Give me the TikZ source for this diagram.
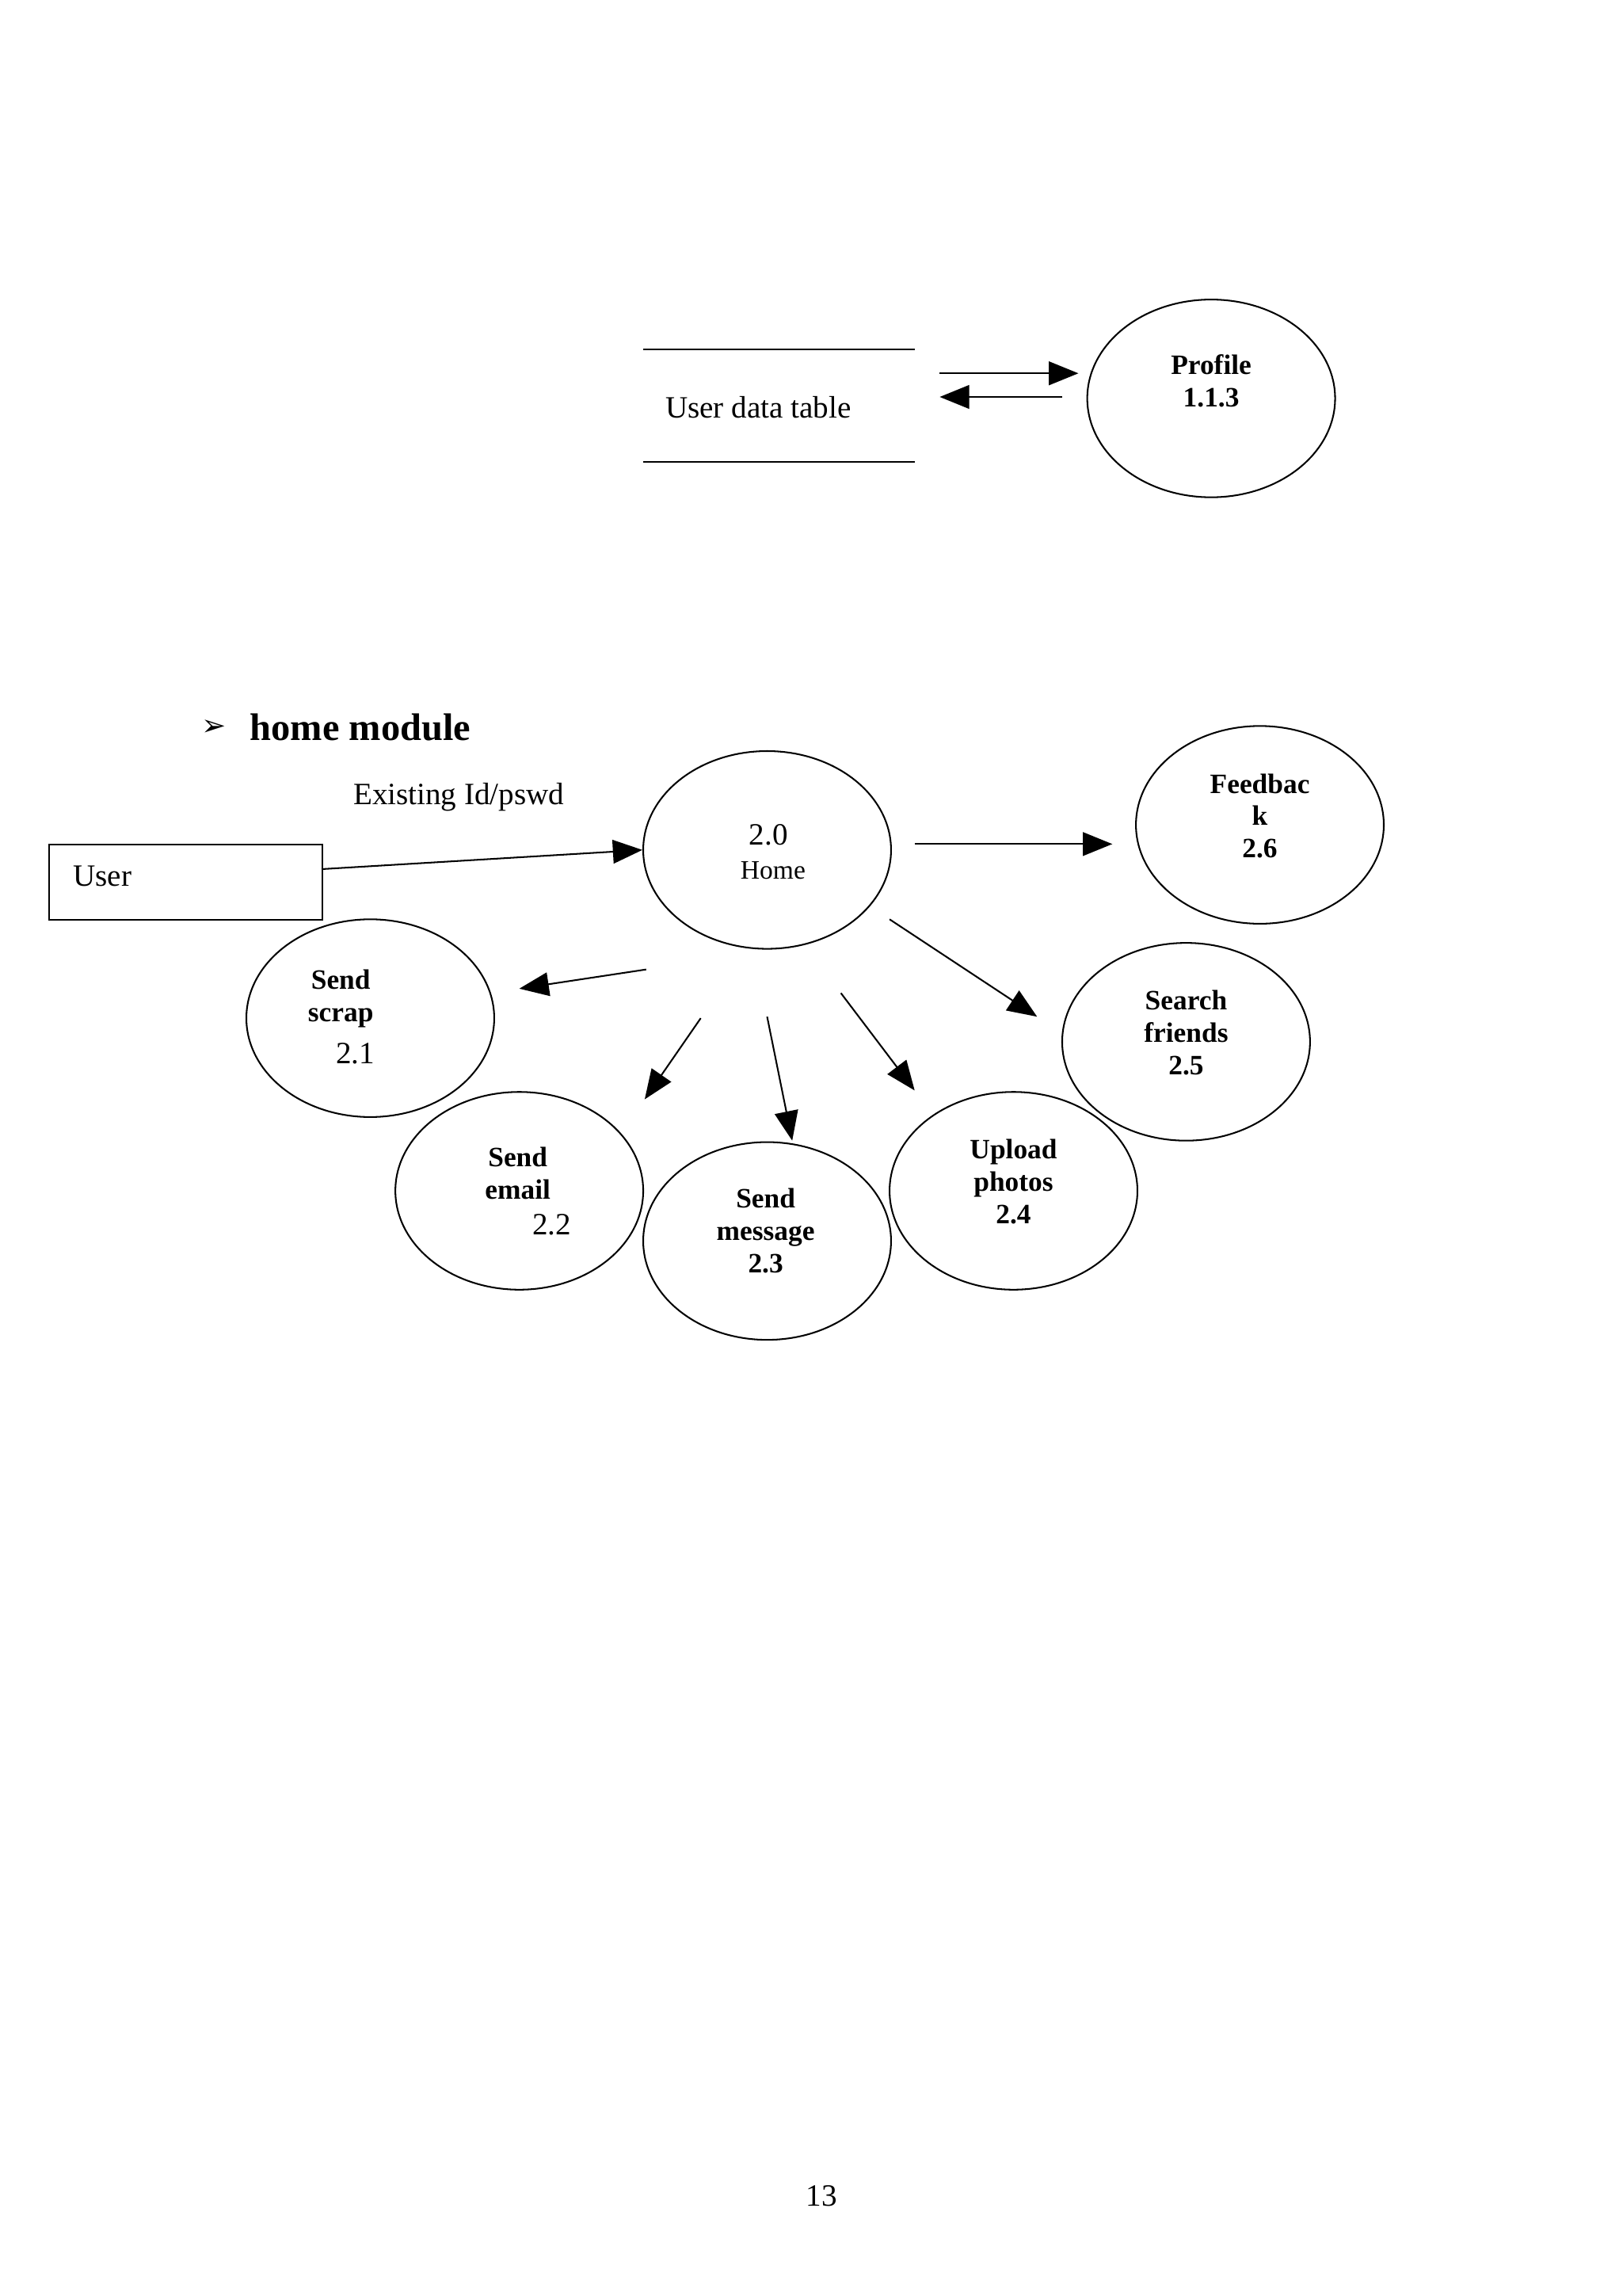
\documentclass[tikz,border=0pt]{standalone}
\usepackage{fontspec}
\setmainfont{Liberation Serif}
\newfontfamily\symf{DejaVu Sans}
\usetikzlibrary{shapes.geometric,arrows.meta}
\begin{document}
\begin{tikzpicture}[x=1pt,y=-1pt,
  proc/.style={draw,ellipse,minimum width=168pt,minimum height=134pt,line width=1.1pt},
  lbl/.style={font=\fontsize{19}{22}\selectfont\bfseries,align=center},
  reg/.style={font=\fontsize{21}{24}\selectfont},
  flow/.style={line width=1.1pt,-{Triangle[length=20pt,width=16pt]}}]
\useasboundingbox (0,0) rectangle (1100,1556);
% data store
\coordinate (s1) at (436,237); \coordinate (s2) at (620,237);
\coordinate (s3) at (436,313); \coordinate (s4) at (620,313);
\draw[line width=1.1pt] (s1)--(s2); \draw[line width=1.1pt] (s3)--(s4);
\node[reg] (ud) at (514,276) {User data table};
\node[proc] (prof) at (821,270) {};
\node[lbl] (proft) at (821,258) {Profile\\1.1.3};
\coordinate (a1) at (637,253); \coordinate (a2) at (731,253);
\coordinate (b1) at (720,269); \coordinate (b2) at (637,269);
\draw[flow] (a1)--(a2); \draw[flow] (b1)--(b2);
% heading
\node (bul) at (145,493) {\symf\fontsize{20}{22}\selectfont ➢};
\node[font=\fontsize{26}{28}\selectfont\bfseries,anchor=west] (hm) at (166,493) {home module};
\node[reg] (ex) at (311,540) {Existing Id/pswd};
% user
\node[draw,line width=0.8pt,minimum width=185pt,minimum height=51pt,anchor=north west] (user) at (33,572) {};
\node[reg,anchor=west] (usert) at (46,594) {User};
% processes
\node[proc] (home) at (520,576) {};
\node[reg] (h1) at (521,566) {2.0};
\node[font=\fontsize{18}{20}\selectfont] (h2) at (524,590) {Home};
\node[proc] (fb) at (854,559) {};
\node[lbl] (fbt) at (854,553) {Feedbac\\k\\2.6};
\node[proc] (sf) at (804,706) {};
\node[lbl] (sft) at (804,700) {Search\\friends\\2.5};
\node[proc] (ss) at (251,690) {};
\node[lbl] (sst) at (231,677) {Send\\scrap};
\node[reg] (ss2) at (241,714) {2.1};
\node[proc] (se) at (352,807) {};
\node[lbl] (set) at (351,795) {Send\\email};
\node[reg] (se2) at (374,830) {2.2};
\node[proc] (sm) at (520,841) {};
\node[lbl] (smt) at (519,834) {Send\\message\\2.3};
\node[proc] (up) at (687,807) {};
\node[lbl] (upt) at (687,801) {Upload\\photos\\2.4};
% flows
\coordinate (u1) at (218,589);
\draw[flow] (u1)--(home.west);
\coordinate (f1) at (620,572); \coordinate (f2) at (754,572);
\draw[flow] (f1)--(f2);
\coordinate (g1) at (603,623); \coordinate (g2) at (703,689);
\draw[flow] (g1)--(g2);
\coordinate (c1) at (438,657); \coordinate (c2) at (352,670);
\draw[flow] (c1)--(c2);
\coordinate (d1) at (475,690); \coordinate (d2) at (437,745);
\draw[flow] (d1)--(d2);
\coordinate (e1) at (520,689); \coordinate (e2) at (537,773);
\draw[flow] (e1)--(e2);
\coordinate (k1) at (570,673); \coordinate (k2) at (620,739);
\draw[flow] (k1)--(k2);
\node[reg] (pg) at (557,1488) {13};
\end{tikzpicture}
\end{document}
